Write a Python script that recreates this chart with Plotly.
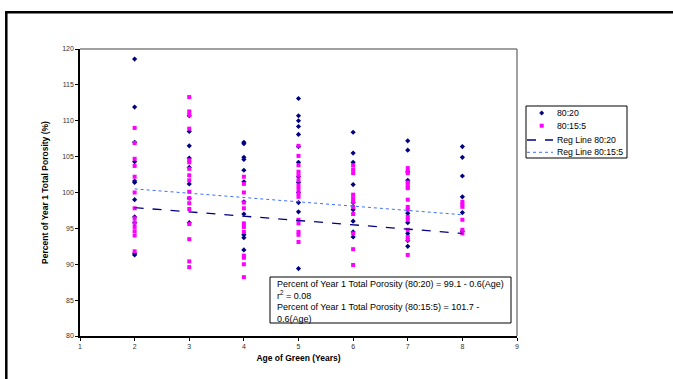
import plotly.graph_objects as go

ages = [2, 3, 4, 5, 6, 7, 8]

navy_vals = [
    [118.6, 111.9, 107.0, 104.3, 101.6, 101.4, 99.0, 96.6, 95.8, 91.3, 91.5],
    [110.7, 108.5, 106.5, 104.8, 103.5, 101.2, 99.2, 95.8],
    [107.0, 106.8, 104.9, 104.6, 103.1, 101.5, 98.7, 97.0, 94.1, 93.7, 92.0],
    [113.1, 110.7, 110.0, 109.2, 108.1, 106.4, 104.2, 102.2, 101.4, 100.0, 98.6, 97.3, 89.4],
    [108.4, 105.5, 104.2, 101.1, 98.6, 97.6, 96.0, 94.5, 93.8],
    [107.2, 105.9, 102.9, 101.7, 97.1, 95.8, 94.3, 93.3, 92.5],
    [106.4, 104.9, 102.3, 99.4, 97.2, 94.6],
]
magenta_vals = [
    [109.0, 106.9, 104.7, 103.7, 102.2, 100.0, 97.8, 96.4, 95.8, 95.2, 94.6, 94.0, 91.8],
    [113.3, 111.3, 110.8, 108.9, 104.5, 104.2, 103.3, 102.4, 101.7, 100.1, 99.2, 98.5, 97.7, 95.6, 93.5, 90.4, 89.6],
    [102.2, 101.2, 100.0, 98.6, 97.8, 95.7, 95.2, 94.5, 91.2, 90.9, 90.0, 88.2],
    [106.5, 105.1, 103.8, 102.9, 102.4, 101.7, 101.0, 100.5, 99.9, 99.4, 96.2, 95.7, 94.5, 94.1, 93.1],
    [103.8, 103.2, 102.7, 99.7, 99.2, 98.7, 98.0, 97.0, 94.3, 92.1, 89.9],
    [103.4, 102.9, 102.7, 101.4, 100.8, 101.3, 100.6, 99.0, 98.0, 97.6, 96.6, 96.2, 94.8, 93.8, 93.4, 91.3],
    [98.7, 98.3, 98.0, 96.2, 94.8, 94.3],
]

reg_ages = [2, 8]
reg1_intercept, reg1_slope = 99.1, -0.6
reg2_intercept, reg2_slope = 101.7, -0.6

x_ticks = [1, 2, 3, 4, 5, 6, 7, 8, 9]
y_ticks = [80, 85, 90, 95, 100, 105, 110, 115, 120]

series_names = ["80:20", "80:15:5", "Reg Line 80:20", "Reg Line 80:15:5"]

NAVY = "#000080"
MAGENTA = "#FF00FF"
BLUE = "#3F6FFF"


def flatten(groups):
    xs, ys = [], []
    for a, vals in zip(ages, groups):
        for v in vals:
            xs.append(a)
            ys.append(v)
    return xs, ys


nx, ny = flatten(navy_vals)
mx, my = flatten(magenta_vals)

fig = go.Figure()
fig.add_trace(go.Scatter(x=nx, y=ny, mode="markers", name=series_names[0],
                         marker=dict(symbol="diamond", size=4, color=NAVY)))
fig.add_trace(go.Scatter(x=mx, y=my, mode="markers", name=series_names[1],
                         marker=dict(symbol="square", size=4, color=MAGENTA)))
fig.add_trace(go.Scatter(x=reg_ages, y=[reg1_intercept + reg1_slope * a for a in reg_ages],
                         mode="lines", name=series_names[2],
                         line=dict(color=NAVY, width=1.3, dash="dash")))
fig.add_trace(go.Scatter(x=reg_ages, y=[reg2_intercept + reg2_slope * a for a in reg_ages],
                         mode="lines", name=series_names[3],
                         line=dict(color=BLUE, width=1, dash="dot")))

W, H = 673, 379
L, R, T, B = 80, 517, 49, 336


def px(p):
    return (p - L) / (R - L)


def py(p):
    return (B - p) / (B - T)


shapes = [
    dict(type="line", xref="paper", yref="paper", x0=0, x1=1, y0=1, y1=1,
         line=dict(color="#808080", width=1.5)),
    dict(type="line", xref="paper", yref="paper", x0=1, x1=1, y0=0, y1=1,
         line=dict(color="#808080", width=1.5)),
    dict(type="rect", xref="paper", yref="paper", x0=px(6.3), x1=px(700), y0=py(420), y1=py(12.3),
         line=dict(color="#000000", width=2.5), layer="below"),
    dict(type="rect", xref="paper", yref="paper", x0=px(270), x1=px(511), y0=py(323), y1=py(277),
         line=dict(color="#000000", width=1), fillcolor="white", layer="above"),
    dict(type="rect", xref="paper", yref="paper", x0=px(526), x1=px(627), y0=py(158), y1=py(106),
         line=dict(color="#000000", width=1), fillcolor="white", layer="above"),
]

row_y = [113, 125.7, 140, 152.3]
sym_x = 541.7
shapes.append(dict(type="path", xref="paper", yref="paper", xsizemode="pixel", ysizemode="pixel",
                   xanchor=px(sym_x), yanchor=py(row_y[0]),
                   path="M0,2.2 L2.2,0 L0,-2.2 L-2.2,0 Z",
                   fillcolor=NAVY, line=dict(color=NAVY, width=0.5)))
shapes.append(dict(type="rect", xref="paper", yref="paper", xsizemode="pixel", ysizemode="pixel",
                   xanchor=px(sym_x), yanchor=py(row_y[1]), x0=-2, x1=2, y0=-2, y1=2,
                   fillcolor=MAGENTA, line=dict(color=MAGENTA, width=0)))
shapes.append(dict(type="line", xref="paper", yref="paper", x0=px(527), x1=px(553),
                   y0=py(row_y[2]), y1=py(row_y[2]),
                   line=dict(color=NAVY, width=1.3, dash="dash")))
shapes.append(dict(type="line", xref="paper", yref="paper", x0=px(527), x1=px(553),
                   y0=py(row_y[3]), y1=py(row_y[3]),
                   line=dict(color=BLUE, width=1, dash="dot")))

annotations = [
    dict(xref="paper", yref="paper", x=px(275), y=py(277), xanchor="left", yanchor="top",
         align="left", showarrow=False,
         text="Percent of Year 1 Total Porosity (80:20) = 99.1 - 0.6(Age)<br>r<sup>2</sup> = 0.08<br>"
              "Percent of Year 1 Total Porosity (80:15:5) = 101.7 -<br>0.6(Age)",
         font=dict(family="Liberation Sans, Arial", size=9, color="#000000")),
]
for name, yy in zip(series_names, row_y):
    annotations.append(dict(xref="paper", yref="paper", x=px(555), y=py(yy),
                            xanchor="left", yanchor="middle", showarrow=False, text=name,
                            font=dict(family="Liberation Sans, Arial", size=8.7, color="#000000")))

fig.update_layout(
    width=W, height=H,
    margin=dict(l=L, r=W - R, t=T, b=H - B),
    paper_bgcolor="white", plot_bgcolor="white",
    showlegend=False,
    shapes=shapes,
    annotations=annotations,
    font=dict(family="Liberation Sans, Arial"),
)

fig.update_xaxes(range=[1, 9], tickvals=x_ticks, showgrid=False, zeroline=False,
                 showline=True, linecolor="black", linewidth=1.5,
                 ticks="outside", ticklen=3, tickcolor="black",
                 tickfont=dict(size=7, color="#333"),
                 title=dict(text="<b>Age of Green (Years)</b>", font=dict(size=8.5, color="#000"), standoff=6))
fig.update_yaxes(range=[80, 120], tickvals=y_ticks, showgrid=False, zeroline=False,
                 showline=True, linecolor="black", linewidth=1.5,
                 ticks="outside", ticklen=3, tickcolor="black",
                 tickfont=dict(size=7, color="#333"),
                 title=dict(text="<b>Percent of Year 1 Total Porosity (%)</b>", font=dict(size=8.5, color="#000"), standoff=12))

fig.write_html("out.html")
